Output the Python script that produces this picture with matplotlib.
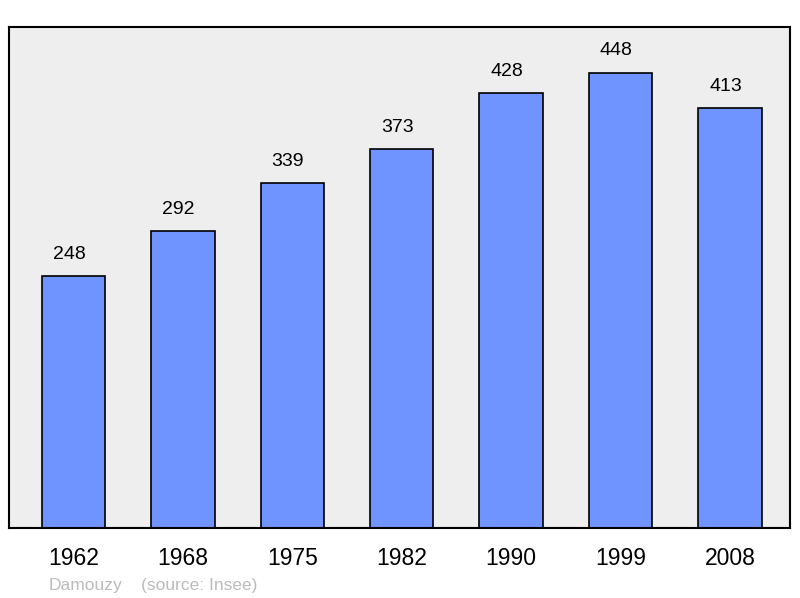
import matplotlib
matplotlib.use("Agg")
import matplotlib.pyplot as plt

plt.rcParams['font.family'] = ['Liberation Sans', 'DejaVu Sans']

years = ["1962", "1968", "1975", "1982", "1990", "1999", "2008"]
population = [248, 292, 339, 373, 428, 448, 413]

fig = plt.figure(figsize=(8, 5.98), dpi=100)
ax = fig.add_axes([0.01125, 0.117, 0.97625, 0.838])
ax.set_facecolor("#eeeeee")

x = range(len(years))
ax.bar(x, population, width=0.58, color="#7094ff", edgecolor="black", linewidth=1.2, zorder=2)
for i, v in enumerate(population):
    ax.text(i - 0.04, v + 13, str(v), ha="center", va="bottom", fontsize=14)

ax.set_xlim(-0.59, 6.55)
ax.set_ylim(0, 493)
ax.set_xticks(list(x))
ax.set_xticklabels(years, fontsize=16.5)
ax.tick_params(axis="x", length=0, pad=14)
ax.set_yticks([])
for s in ax.spines.values():
    s.set_linewidth(1.5)

fig.text(0.061, 0.013, "Damouzy", color="#bbbbbb", fontsize=12.5)
fig.text(0.176, 0.013, "(source: Insee)", color="#bbbbbb", fontsize=12.5)

fig.savefig("out.png", dpi=100)
